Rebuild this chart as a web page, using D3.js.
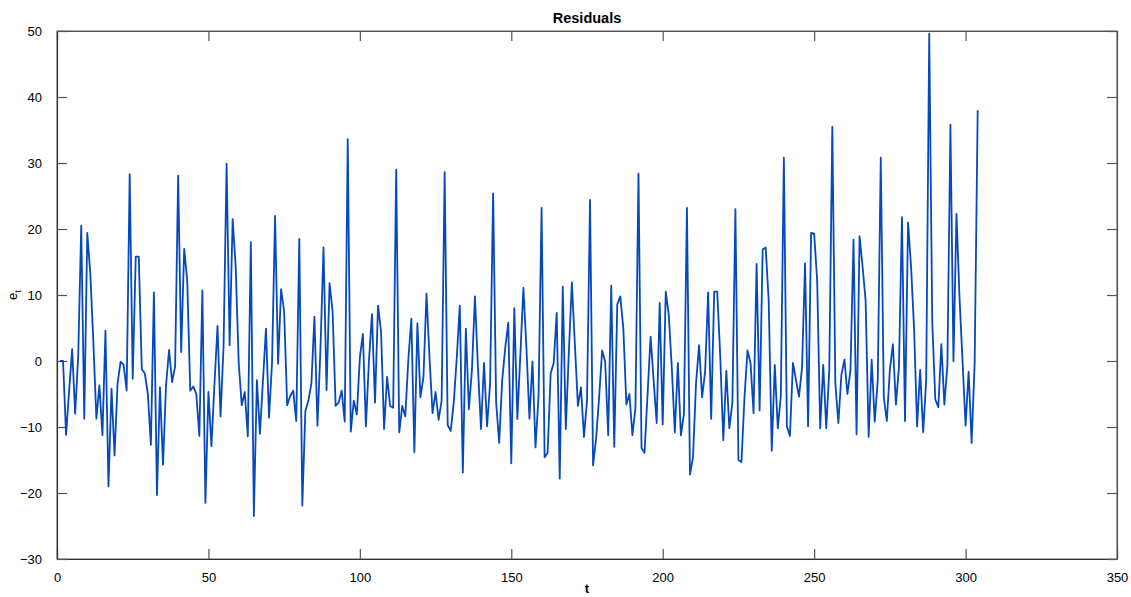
<!DOCTYPE html>
<html><head><meta charset="utf-8">
<script src="https://cdn.jsdelivr.net/npm/d3@7"></script>
<style>body{margin:0;background:#fff}svg{display:block;font-family:"Liberation Sans",Arial,sans-serif}</style>
</head><body><svg id="c" width="1131" height="597"></svg>
<script>
const residuals = [
0,0,-11.2,-4.5,1.8,-8,0.7,20.5,-8.75,19.4,
13.2,3,-8.75,-3.7,-11.25,4.6,-19,-4.2,-14.3,-3.4,
-0.1,-0.6,-4.5,28.3,-2.7,15.8,15.8,-1.25,-1.9,-5,
-12.7,10.4,-20.3,-4,-15.7,-3.7,1.7,-3.2,-0.8,28.1,
1.35,17,12.2,-4.5,-3.85,-5,-11.35,10.7,-21.5,-4.7,
-12.9,-3.4,5.3,-8.4,2.3,29.9,2.4,21.5,14.3,-0.3,
-6.7,-4.7,-11.4,18,-23.5,-2.9,-11,-3,4.9,-8.6,
-0.3,22,-0.4,10.9,7.5,-6.7,-5.3,-4.5,-9.1,18.5,
-21.9,-7.6,-6,-3.4,6.7,-9.8,2,17.2,-4.4,11.8,
7.5,-6.8,-6.3,-4.5,-9.2,33.6,-10.7,-6,-8.1,0.5,
4.1,-9.9,0,7.1,-6.3,8.4,4.5,-10.3,-2.4,-6.8,
-7.1,29,-10.8,-6.8,-8.4,0.2,6.4,-13.8,5.7,-5.5,
-2.4,10.2,0.5,-7.9,-4.7,-8.9,-6,28.6,-9.7,-10.6,
-6.3,0.5,8.4,-16.9,4.9,-7.3,-1.4,9.8,-1,-10.3,
-0.3,-9.9,-3.4,25.4,-6.3,-12.4,-2.9,2,5.8,-15.5,
8,-8.8,1,11.1,2,-8.75,-0.05,-13.1,-5.3,23.2,
-14.6,-13.9,-1.9,-0.3,7.3,-17.8,11.25,-10.3,1.25,11.9,
2.5,-6.8,-4,-11.5,-6,24.4,-15.8,-11.8,-5.5,1.6,
-0.1,-11.25,11.4,-13,8.6,9.8,4.9,-6.6,-5,-11.25,
-7.1,28.4,-13.2,-13.9,-5,3.7,-2.9,-9.4,8.8,-9.6,
10.5,7,-1,-10.8,-0.3,-11.25,-8.1,23.2,-17.2,-14.6,
-3.4,2.4,-5.5,-1.6,10.4,-8.75,10.5,10.5,0.7,-12,
-1.5,-10.2,-6.3,23,-15,-15.3,-5.5,1.6,-0.3,-7.9,
14.7,-7.5,16.9,17.2,9.1,-13.6,-0.6,-10.2,-5.3,30.8,
-9.9,-11.35,-0.3,-2.9,-5.4,-1,14.8,-9.9,19.4,19.3,
12.2,-10.2,-0.6,-10.2,-1.35,35.5,-3.4,-9.4,-2.1,0.2,
-5,-1.35,18.4,-11.1,18.9,14.3,9.1,-11.5,0.2,-9.2,
-2.9,30.8,-5.5,-9.1,-1.35,2.55,-6.6,-1,21.8,-9.1,
21,14.3,4.9,-9.9,-1.35,-10.8,-2.9,49.6,5.9,-5.8,
-7,2.55,-6.6,-0.6,35.8,-0.05,22.3,9.6,0,-9.8,
-1.6,-12.4,-0.3,38
];
const xTicks = [0,50,100,150,200,250,300,350];
const yTicks = [-30,-20,-10,0,10,20,30,40,50];
const titleText = "Residuals";
const xLabel = "t";

const svg = d3.select("#c");
const L = 57, R = 1117, T = 31, B = 559;
const x = d3.scaleLinear().domain([0,350]).range([L,R]);
const y = d3.scaleLinear().domain([-30,50]).range([B,T]);
const axisColor = "#555";

svg.append("rect").attr("x",L).attr("y",T).attr("width",R-L).attr("height",B-T)
  .attr("fill","none").attr("stroke","#777").attr("stroke-width",1.2);

const tl = 10;
const gB = svg.append("g").attr("transform",`translate(0,${B})`)
  .call(d3.axisBottom(x).tickValues(xTicks).tickSizeInner(-tl).tickSizeOuter(0).tickPadding(tl+4));
const gT = svg.append("g").attr("transform",`translate(0,${T})`)
  .call(d3.axisTop(x).tickValues(xTicks).tickSizeInner(-tl).tickSizeOuter(0).tickFormat(""));
const gL = svg.append("g").attr("transform",`translate(${L},0)`)
  .call(d3.axisLeft(y).tickValues(yTicks).tickSizeInner(-tl).tickSizeOuter(0).tickPadding(tl+5));
const gR = svg.append("g").attr("transform",`translate(${R},0)`)
  .call(d3.axisRight(y).tickValues(yTicks).tickSizeInner(-tl).tickSizeOuter(0).tickFormat(""));
[gB,gT,gL,gR].forEach(g=>{
  g.select(".domain").attr("stroke",axisColor).attr("stroke-width",1.2);
  g.selectAll(".tick line").attr("stroke",axisColor).attr("stroke-width",1.2);
  g.selectAll(".tick text").attr("fill","#000").attr("font-size",13)
    .attr("font-family","'Liberation Sans',Arial,sans-serif");
});
gB.select(".domain").attr("stroke","#333");
gL.select(".domain").attr("stroke","#333");

const line = d3.line().x((d,i)=>x(i+1)).y(d=>y(d));
svg.append("path").datum(residuals).attr("d",line)
  .attr("fill","none").attr("stroke","#0648bd").attr("stroke-width",1.8)
  .attr("stroke-linejoin","round");

svg.append("text").attr("x",(L+R)/2).attr("y",23).attr("text-anchor","middle")
  .attr("font-size",14.5).attr("font-weight","bold").text(titleText);
svg.append("text").attr("x",(L+R)/2).attr("y",593).attr("text-anchor","middle")
  .attr("font-size",13).attr("font-weight","bold").text(xLabel);
const yl = svg.append("text").attr("transform","translate(17,295) rotate(-90)")
  .attr("text-anchor","middle").attr("font-size",13);
yl.append("tspan").text("e");
yl.append("tspan").attr("font-size",9).attr("dy",4).text("t");
</script></body></html>
